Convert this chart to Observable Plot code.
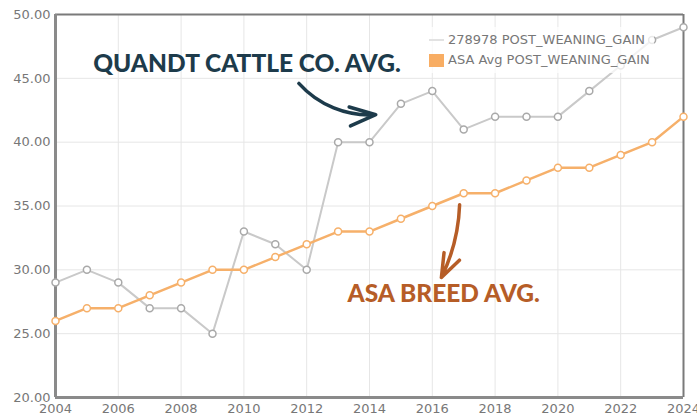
<!DOCTYPE html>
<html>
<head>
<meta charset="utf-8">
<script src="https://cdn.jsdelivr.net/npm/d3@7"></script>
<script src="https://cdn.jsdelivr.net/npm/@observablehq/plot@0.6"></script>
<style>
  html, body { margin: 0; padding: 0; background: #fff; }
  #wrap { position: relative; width: 697px; height: 418px; overflow: hidden; }
  #legend { position: absolute; left: 427px; top: 27px; padding: 3px 4px 3px 2px; background: rgba(255,255,255,0.75); font-family: "DejaVu Sans", sans-serif; font-size: 13px; color: #777; line-height: 20px; }
  #legend .row { display: flex; align-items: center; white-space: nowrap; }
  #legend .sw { width: 15px; margin-right: 4px; }
</style>
</head>
<body>
<div id="wrap"></div>
<script>
// ---- data ----
const years = [2004, 2005, 2006, 2007, 2008, 2009, 2010, 2011, 2012, 2013, 2014,
               2015, 2016, 2017, 2018, 2019, 2020, 2021, 2022, 2023, 2024];
const quandt = [29, 30, 29, 27, 27, 25, 33, 32, 30, 40, 40,
                43, 44, 41, 42, 42, 42, 44, 46, 48, 49];
const asa = [26, 27, 27, 28, 29, 30, 30, 31, 32, 33, 33,
             34, 35, 36, 36, 37, 38, 38, 39, 40, 42];
const seriesNames = ["278978 POST_WEANING_GAIN", "ASA Avg POST_WEANING_GAIN"];
const xTicks = [2004, 2006, 2008, 2010, 2012, 2014, 2016, 2018, 2020, 2022, 2024];
const yTicks = [20, 25, 30, 35, 40, 45, 50];
const annotationLabels = ["QUANDT CATTLE CO. AVG.", "ASA BREED AVG."];
// annotation anchors (data space)
const annoX = [2005.2, 2013.3];
const annoY = [46.1, 28.1];
const arrowX1 = [2011.75, 2016.87];
const arrowY1 = [44.6, 35.1];
const arrowX2 = [2014.2, 2016.29];
const arrowY2 = [42.15, 29.4];

const colors = { quandt: "#c9c9c9", quandtPt: "#a9a9a9", asa: "#f6b06a", navy: "#1d3b4b", rust: "#b65d27" };

const qRows = years.map((y, i) => ({ year: y, v: quandt[i] }));
const aRows = years.map((y, i) => ({ year: y, v: asa[i] }));
const annos = annotationLabels.map((t, i) => ({ t, x: annoX[i], y: annoY[i], c: i === 0 ? colors.navy : colors.rust }));
const arrowRows = arrowX1.map((x, i) => ({ x1: x, y1: arrowY1[i], x2: arrowX2[i], y2: arrowY2[i] }));

const chart = Plot.plot({
  width: 697,
  height: 418,
  marginLeft: 55,
  marginRight: 14,
  marginTop: 14,
  marginBottom: 21,
  style: { fontFamily: "DejaVu Sans, sans-serif", background: "#fff", overflow: "visible" },
  x: { domain: [2004, 2024], ticks: xTicks, tickFormat: "d" },
  y: { domain: [20, 50], ticks: yTicks, tickFormat: ".2f" },
  marks: [
    Plot.gridX(xTicks, { stroke: "#e6e6e6", strokeOpacity: 1 }),
    Plot.gridY(yTicks, { stroke: "#e6e6e6", strokeOpacity: 1 }),
    Plot.ruleY([50], { stroke: "#7a7a7a", strokeWidth: 2 }),
    Plot.ruleX([2024], { stroke: "#7a7a7a", strokeWidth: 2 }),
    Plot.ruleX([2004], { stroke: "#8a8a8a", strokeWidth: 3 }),
    Plot.ruleY([20], { stroke: "#8a8a8a", strokeWidth: 3 }),
    Plot.axisX(xTicks, { tickSize: 0, tickPadding: 6, fontSize: 13, fill: "#777", tickFormat: "d" }),
    Plot.axisY(yTicks, { tickSize: 0, tickPadding: 5, fontSize: 13, fill: "#777", tickFormat: ".2f" }),
    Plot.line(qRows, { x: "year", y: "v", stroke: colors.quandt, strokeWidth: 2 }),
    Plot.dot(qRows, { x: "year", y: "v", r: 3.5, fill: "white", stroke: colors.quandtPt, strokeWidth: 1.5 }),
    Plot.line(aRows, { x: "year", y: "v", stroke: colors.asa, strokeWidth: 2.5 }),
    Plot.dot(aRows, { x: "year", y: "v", r: 3.5, fill: "white", stroke: colors.asa, strokeWidth: 1.5 }),
    Plot.arrow([arrowRows[0]], { x1: "x1", y1: "y1", x2: "x2", y2: "y2", stroke: colors.navy, bend: -26, strokeWidth: 3.5, headLength: 13, headAngle: 40 }),
    Plot.arrow([arrowRows[1]], { x1: "x1", y1: "y1", x2: "x2", y2: "y2", stroke: colors.rust, bend: 12, strokeWidth: 3.5, headLength: 13, headAngle: 40 }),
    Plot.text(annos, { x: "x", y: "y", text: "t", fill: "c", textAnchor: "start", fontSize: 24.5, fontWeight: 900, fontFamily: "Lato, sans-serif" })
  ]
});
document.getElementById("wrap").appendChild(chart);

const legend = document.createElement("div");
legend.id = "legend";
legend.innerHTML =
  `<div class="row"><span class="sw" style="height:2px;background:#e2e2e2"></span>${seriesNames[0]}</div>` +
  `<div class="row"><span class="sw" style="height:13px;background:#f8ad63"></span>${seriesNames[1]}</div>`;
document.getElementById("wrap").appendChild(legend);
</script>
</body>
</html>
